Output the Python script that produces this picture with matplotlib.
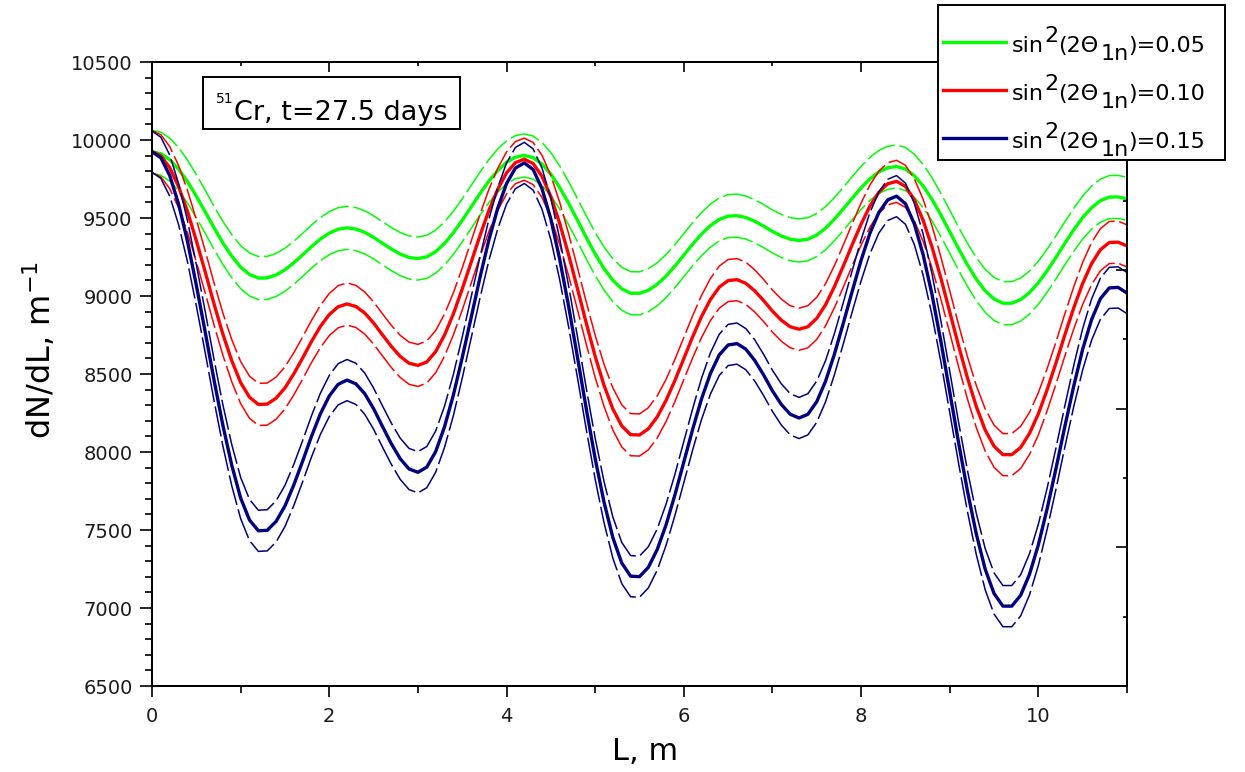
import matplotlib
matplotlib.use("Agg")
import matplotlib.pyplot as plt
from matplotlib.patches import Rectangle
from matplotlib.lines import Line2D
from matplotlib.ticker import MultipleLocator

plt.rcParams['font.family'] = ['DejaVu Sans']
plt.rcParams['mathtext.fontset'] = 'dejavusans'

# ---------------- data ----------------
L_m = [i / 10 for i in range(111)]   # sampling grid 0.0 ... 11.0 m

green_mid = [9925, 9912, 9874, 9813, 9734, 9640, 9540, 9437, 9340, 9255, 9185,
             9138, 9115, 9116, 9135, 9168, 9213, 9264, 9317, 9365, 9403,
             9428, 9437, 9429, 9408, 9376, 9338, 9301, 9269, 9247, 9240,
             9251, 9284, 9337, 9405, 9485, 9570, 9656, 9736, 9804, 9857,
             9890, 9901, 9887, 9846, 9781, 9695, 9595, 9486, 9375, 9269,
             9176, 9100, 9046, 9018, 9017, 9037, 9075, 9128, 9192, 9262,
             9332, 9397, 9451, 9491, 9512, 9515, 9503, 9479, 9448, 9414,
             9385, 9364, 9356, 9364, 9391, 9435, 9493, 9559, 9627, 9693,
             9751, 9795, 9822, 9830, 9814, 9771, 9705, 9620, 9520, 9412,
             9303, 9200, 9108, 9033, 8981, 8954, 8954, 8977, 9022, 9085,
             9163, 9249, 9339, 9425, 9503, 9566, 9611, 9634, 9635, 9623]

red_mid = [9925, 9899, 9823, 9701, 9543, 9355, 9155, 8949, 8755, 8585, 8445,
           8351, 8305, 8307, 8345, 8411, 8501, 8603, 8709, 8805, 8881,
           8931, 8949, 8933, 8891, 8827, 8751, 8677, 8613, 8569, 8555,
           8577, 8643, 8749, 8885, 9045, 9215, 9387, 9547, 9683, 9789,
           9855, 9877, 9849, 9767, 9637, 9465, 9265, 9047, 8825, 8613,
           8427, 8275, 8167, 8111, 8109, 8149, 8225, 8331, 8459, 8599,
           8739, 8869, 8977, 9057, 9099, 9105, 9081, 9033, 8971, 8903,
           8845, 8803, 8787, 8803, 8857, 8945, 9061, 9193, 9329, 9461,
           9577, 9665, 9719, 9735, 9703, 9617, 9485, 9315, 9115, 8899,
           8681, 8475, 8291, 8141, 8037, 7983, 7983, 8029, 8119, 8245,
           8401, 8573, 8753, 8925, 9081, 9207, 9297, 9343, 9345, 9321]

blue_mid = [9925, 9886, 9772, 9589, 9352, 9070, 8770, 8461, 8170, 7915, 7705,
            7564, 7495, 7498, 7555, 7654, 7789, 7942, 8101, 8245, 8359,
            8434, 8461, 8437, 8374, 8278, 8164, 8053, 7957, 7891, 7870,
            7903, 8002, 8161, 8365, 8605, 8860, 9118, 9358, 9562, 9721,
            9820, 9853, 9811, 9688, 9493, 9235, 8935, 8608, 8275, 7957,
            7678, 7450, 7288, 7204, 7201, 7261, 7375, 7534, 7726, 7936,
            8146, 8341, 8503, 8623, 8686, 8695, 8659, 8587, 8494, 8392,
            8305, 8242, 8218, 8242, 8323, 8455, 8629, 8827, 9031, 9229,
            9403, 9535, 9616, 9640, 9592, 9463, 9265, 9010, 8710, 8386,
            8059, 7750, 7474, 7249, 7093, 7012, 7012, 7081, 7216, 7405,
            7639, 7897, 8167, 8425, 8659, 8848, 8983, 9052, 9055, 9019]

band_halfwidth = [138, 135, 132]          # dashed error band for each series
series_values = ["0.05", "0.10", "0.15"]  # sin^2(2 Theta_1n)
series_colors = ["#00ff00", "#ff0000", "#000080"]

x_ticks = [0, 2, 4, 6, 8, 10]
y_ticks = [6500, 7000, 7500, 8000, 8500, 9000, 9500, 10000, 10500]

# ---------------- figure ----------------
W, H = 1245, 772
fig = plt.figure(figsize=(W / 100, H / 100), dpi=100)


def fx(px):
    return px / W


def fy(py):
    return 1 - py / H


ax = fig.add_axes([fx(152), fy(686), (1127 - 152) / W, (686 - 62) / H])

mids = [green_mid, red_mid, blue_mid]
for mid, err, col in zip(mids, band_halfwidth, series_colors):
    upper = [v + err for v in mid]
    lower = [v - err for v in mid]
    ax.plot(L_m, upper, color=col, lw=1.1, dashes=(20, 3))
    ax.plot(L_m, lower, color=col, lw=1.1, dashes=(20, 3))
    ax.plot(L_m, mid, color=col, lw=2.4, solid_capstyle='butt')

ax.set_xlim(0, 11)
ax.set_ylim(6500, 10500)
ax.set_xticks(x_ticks)
ax.set_yticks(y_ticks)
ax.xaxis.set_minor_locator(MultipleLocator(1))
ax.yaxis.set_minor_locator(MultipleLocator(100))
for s in ax.spines.values():
    s.set_linewidth(1.4)
ax.tick_params(axis='x', which='major', direction='out', length=8, width=1.2,
               labelsize=14, pad=7, labelcolor='#1a1a1a')
ax.tick_params(axis='x', which='minor', direction='out', length=5, width=1.2)
ax.tick_params(axis='y', which='major', direction='out', length=9, width=1.2,
               labelsize=14, pad=5, labelcolor='#1a1a1a')
ax.tick_params(axis='y', which='minor', direction='out', length=5, width=1.2)

# top axis ticks (inward, no labels)
top = ax.secondary_xaxis('top')
top.set_xticks(x_ticks)
top.xaxis.set_minor_locator(MultipleLocator(1))
top.tick_params(which='major', direction='in', length=7, width=1.2, labeltop=False)
top.tick_params(which='minor', direction='in', length=3, width=1.2)
top.spines['top'].set_linewidth(1.4)

# right axis ticks (inward, no labels)
ax2 = ax.twinx()
ax2.set_ylim(0, 9)
ax2.set_yticks([0, 2, 4, 6, 8])
ax2.yaxis.set_minor_locator(MultipleLocator(1))
ax2.tick_params(which='major', direction='in', length=8, width=1.2, labelright=False)
ax2.tick_params(which='minor', direction='in', length=3, width=1.2)
for s in ax2.spines.values():
    s.set_linewidth(1.4)

# axis titles
fig.text(fx(645), fy(760), "L, m", fontsize=22, ha='center', va='baseline')
fig.text(fx(40), fy(350), r"dN/dL, m$^{\mathregular{-1}}$", fontsize=23,
         rotation=90, ha='center', va='center')

renderer = fig.canvas.get_renderer()


def rich_text(x_px, base_py, pieces, zorder=12):
    """pieces: (text, fontsize, raise_px, extra_gap_px)"""
    x = x_px
    for txt, size, dy, gap in pieces:
        x += gap
        t = fig.text(fx(x), fy(base_py - dy), txt, fontsize=size,
                     ha='left', va='baseline', zorder=zorder)
        bb = t.get_window_extent(renderer)
        x += bb.width


# text box with the isotope label
fig.patches.append(Rectangle((fx(203), fy(129)), (460 - 203) / W, (129 - 77) / H,
                             transform=fig.transFigure, fc='white', ec='black',
                             lw=1.4, zorder=11))
rich_text(216, 120, [("51", 10, 17, 0), ("Cr, t=27.5 days", 19.5, 0, 0)])

# legend box
fig.patches.append(Rectangle((fx(938), fy(160)), (1225 - 938) / W, (160 - 5) / H,
                             transform=fig.transFigure, fc='white', ec='black',
                             lw=1.4, zorder=11))
row_y = [42, 90, 138]
for val, col, yl in zip(series_values, series_colors, row_y):
    fig.lines.append(Line2D([fx(943), fx(1006)], [fy(yl), fy(yl)],
                            transform=fig.transFigure, color=col, lw=2.4,
                            zorder=12))
    rich_text(1012, yl + 10, [("sin", 16, 0, 0), ("2", 16, 10, 0),
                              ("(2\u0398", 16, 0, 0), ("1n", 16, -8, 2),
                              (")=" + val, 16, 0, 0)])

fig.savefig("out.png", dpi=100)
